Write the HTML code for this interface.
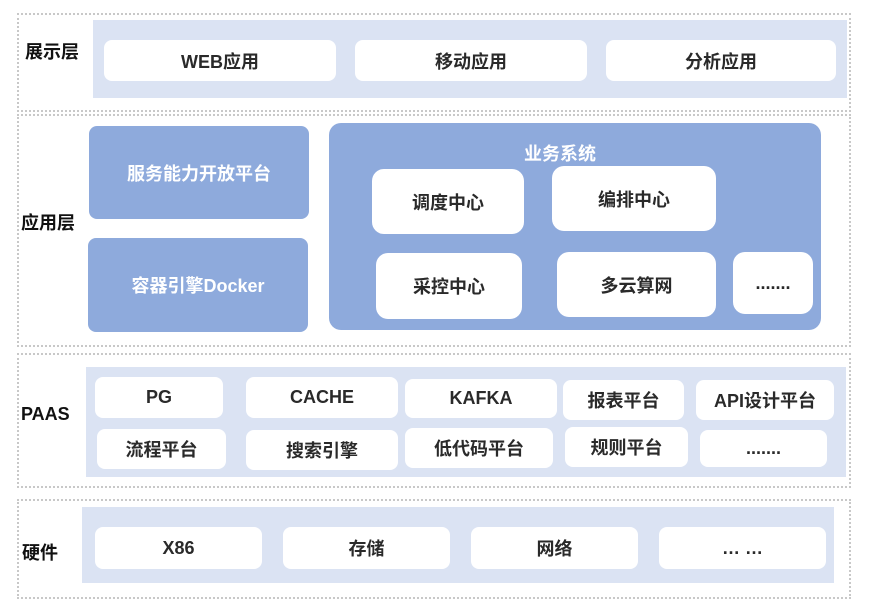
<!DOCTYPE html>
<html><head><meta charset="utf-8"><style>
body{margin:0;width:888px;height:616px;background:#fff;position:relative;overflow:hidden;font-family:"Liberation Sans","Noto Sans CJK SC",sans-serif;font-weight:bold;}
div{position:absolute;box-sizing:border-box;}
.o{border:2px dotted #c8c8c8;}
.lb{background:#dbe3f3;}
.w{background:#fff;border-radius:8px;display:flex;align-items:center;justify-content:center;font-size:18px;color:#2a2a2a;}
.b{background:#8eaadc;border-radius:8px;display:flex;align-items:center;justify-content:center;font-size:18px;color:#fff;}
.t{font-size:18px;color:#111;}
</style></head><body>
<div class="o" style="left:17px;top:13px;width:834px;height:99px"></div>
<div class="o" style="left:17px;top:114px;width:834px;height:233px"></div>
<div class="o" style="left:17px;top:353px;width:834px;height:135px"></div>
<div class="o" style="left:17px;top:499px;width:834px;height:100px"></div>

<div class="t" style="left:25px;top:38px">展示层</div>
<div class="lb" style="left:93px;top:20px;width:754px;height:78px"></div>
<div class="w" style="left:104px;top:40px;width:232px;height:41px">WEB应用</div>
<div class="w" style="left:355px;top:40px;width:232px;height:41px">移动应用</div>
<div class="w" style="left:606px;top:40px;width:230px;height:41px">分析应用</div>

<div class="t" style="left:21px;top:209px">应用层</div>
<div class="b" style="left:89px;top:126px;width:220px;height:93px">服务能力开放平台</div>
<div class="b" style="left:88px;top:238px;width:220px;height:94px">容器引擎Docker</div>
<div class="b" style="left:329px;top:123px;width:492px;height:207px;border-radius:12px;align-items:flex-start;padding-top:17px;padding-right:30px">业务系统</div>
<div class="w" style="left:372px;top:169px;width:152px;height:65px;border-radius:12px">调度中心</div>
<div class="w" style="left:552px;top:166px;width:164px;height:65px;border-radius:12px">编排中心</div>
<div class="w" style="left:376px;top:253px;width:146px;height:66px;border-radius:12px">采控中心</div>
<div class="w" style="left:557px;top:252px;width:159px;height:65px;border-radius:12px">多云算网</div>
<div class="w" style="left:733px;top:252px;width:80px;height:62px;border-radius:12px">.......</div>

<div class="t" style="left:21px;top:404px">PAAS</div>
<div class="lb" style="left:86px;top:367px;width:760px;height:110px"></div>
<div class="w" style="left:95px;top:377px;width:128px;height:41px">PG</div>
<div class="w" style="left:246px;top:377px;width:152px;height:41px">CACHE</div>
<div class="w" style="left:405px;top:379px;width:152px;height:39px">KAFKA</div>
<div class="w" style="left:563px;top:380px;width:121px;height:40px">报表平台</div>
<div class="w" style="left:696px;top:380px;width:138px;height:40px">API设计平台</div>
<div class="w" style="left:97px;top:429px;width:129px;height:40px">流程平台</div>
<div class="w" style="left:246px;top:430px;width:152px;height:40px">搜索引擎</div>
<div class="w" style="left:405px;top:428px;width:148px;height:40px">低代码平台</div>
<div class="w" style="left:565px;top:427px;width:123px;height:40px">规则平台</div>
<div class="w" style="left:700px;top:430px;width:127px;height:37px">.......</div>

<div class="t" style="left:22px;top:539px">硬件</div>
<div class="lb" style="left:82px;top:507px;width:752px;height:76px"></div>
<div class="w" style="left:95px;top:527px;width:167px;height:42px">X86</div>
<div class="w" style="left:283px;top:527px;width:167px;height:42px">存储</div>
<div class="w" style="left:471px;top:527px;width:167px;height:42px">网络</div>
<div class="w" style="left:659px;top:527px;width:167px;height:42px">… …</div>
</body></html>
